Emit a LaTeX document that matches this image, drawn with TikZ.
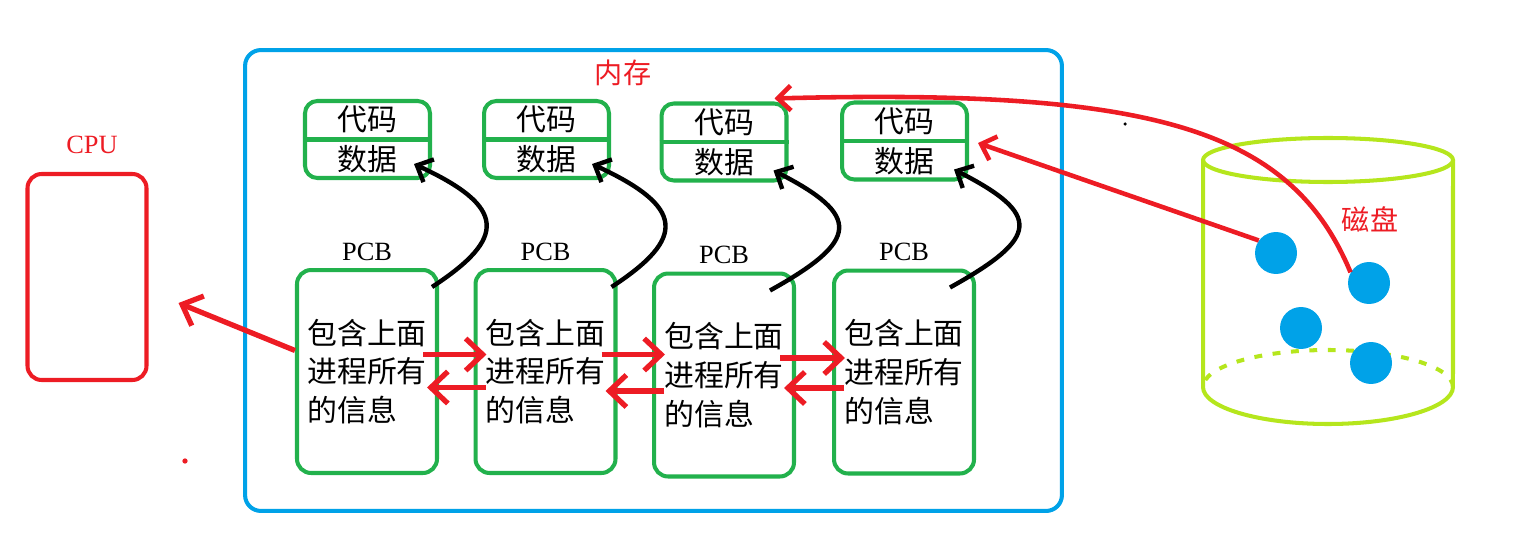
\documentclass[tikz,border=0pt]{standalone}
\usepackage{fontspec}
\setmainfont{Liberation Serif}
\newfontfamily\cjk{Noto Sans CJK SC}
\usepackage{xcolor}
\usetikzlibrary{arrows.meta,positioning}
\definecolor{memblue}{HTML}{00A2E8}
\definecolor{boxgreen}{HTML}{22B14C}
\definecolor{linkred}{HTML}{ED1C24}
\definecolor{diskgreen}{HTML}{B5E61D}

\begin{document}
\begin{tikzpicture}[
    x=0.02cm, y=-0.02cm,
    membox/.style={draw=memblue, line width=2.3pt, rounded corners=9pt,
                   minimum width=16.34cm, minimum height=9.22cm},
    cpubox/.style={draw=linkred, line width=2.3pt, rounded corners=8pt,
                   minimum width=2.38cm, minimum height=4.12cm},
    segbox/.style={draw=boxgreen, line width=2.3pt, rounded corners=7pt,
                   minimum width=2.5cm, minimum height=1.54cm},
    pcbbox/.style={draw=boxgreen, line width=2.3pt, rounded corners=8pt,
                   minimum width=2.8cm, minimum height=4.06cm, align=left,
                   font=\cjk\fontsize{17}{22}\selectfont},
    word/.style={font=\cjk\fontsize{17}{20}\selectfont, inner sep=0pt},
    tag/.style={font=\fontsize{15}{18}\selectfont, inner sep=0pt},
    redtag/.style={text=linkred, inner sep=0pt},
    xchg/.style={-{Straight Barb[length=0.34cm, width=0.64cm]}, draw=linkred, line width=3pt},
    fetch/.style={-{Straight Barb[length=0.26cm, width=0.5cm]}, draw=linkred, line width=2.6pt},
    link/.style={-{Straight Barb[length=0.26cm, width=0.5cm]}, line width=2.5pt},
    disk/.style={draw=diskgreen, line width=2.3pt},
    ball/.style={circle, fill=memblue, minimum size=0.84cm, inner sep=0pt}
]
    \useasboundingbox (0,0) rectangle (1523,557);

    \node[membox] (mem) at (653.5,280.5) {};
    \node[redtag, font=\cjk\fontsize{16}{18}\selectfont] (memtag) at (623,73) {内存};

    \node[cpubox] (cpu) at (87,277) {};
    \node[redtag, tag] (cputag) at (92,145) {CPU};

    % code / data of each process
    \foreach \i/\x/\y in {1/367.5/139.5, 2/546.5/139.5, 3/724/142, 4/904.5/141}{
        \node[segbox] (seg\i) at (\x,\y) {};
        \draw[boxgreen, line width=2.3pt] (seg\i.west) -- (seg\i.east);
        \node[word] (code\i) at ([yshift=0.4cm]seg\i.center) {代码};
        \node[word] (data\i) at ([yshift=-0.4cm]seg\i.center) {数据};
    }

    % PCBs
    \foreach \i/\x/\y in {1/367/371.5, 2/545.5/371.5, 3/724/375, 4/904/372}{
        \node[pcbbox] (pcb\i) at (\x,\y) {包含上面\\进程所有\\的信息};
        \node[tag, above=0.14cm of pcb\i] (name\i) {PCB};
    }

    \draw[link] ([shift={(-7,19)}]pcb1.north east) .. controls +(75,-49) and +(93,43) .. ([shift={(-18,-16)}]seg1.south east);
    \draw[link] ([shift={(-6,19)}]pcb2.north east) .. controls +(75,-49) and +(93,43) .. ([shift={(-19,-16)}]seg2.south east);
    \draw[link] ([shift={(-26,19)}]pcb3.north east) .. controls +(90,-50) and +(88,45) .. ([shift={(-15,-12)}]seg3.south east);
    \draw[link] ([shift={(-26,19)}]pcb4.north east) .. controls +(90,-50) and +(88,45) .. ([shift={(-15,-12)}]seg4.south east);

    \foreach \a/\b in {pcb1/pcb2, pcb2/pcb3, pcb3/pcb4}{
        \draw[xchg] ([shift={(-16,-17)}]\a.east) coordinate (go)
            -- ([xshift=0.26cm]go -| \b.west);
        \draw[xchg] ([shift={(12,16)}]\b.west) coordinate (back)
            -- ([xshift=-0.24cm]back -| \a.east);
    }
    \draw[xchg] ([yshift=0.42cm]pcb1.west) -- ([shift={(30,26)}]cpu.east);

    % disk
    \draw[disk] (1328,160) ellipse [x radius=2.5cm, y radius=0.44cm];
    \draw[disk] (1203,160) -- (1203,387) arc[start angle=180, end angle=360, x radius=2.5cm, y radius=0.74cm] -- (1453,160);
    \draw[disk, dash pattern=on 4.5pt off 6pt] (1453,387) arc[start angle=0, end angle=180, x radius=2.5cm, y radius=0.74cm];
    \node[redtag, font=\cjk\fontsize{16}{18}\selectfont] (disktag) at (1370,219) {磁盘};
    \node[ball] (ball1) at (1276,253) {};
    \node[ball] (ball2) at (1369,283) {};
    \node[ball] (ball3) at (1301,328) {};
    \node[ball] (ball4) at (1371,363) {};

    \draw[fetch] (ball1.144) -- ([shift={(9,2)}]seg4.east);
    \draw[fetch] (ball2.150) .. controls +(-60,-144) and +(378,-10) .. ([shift={(-14,-3)}]seg3.north east);

    \fill[linkred] (185,461) circle[radius=1.5pt];
    \fill (1125,124) circle[radius=1pt];
\end{tikzpicture}
\end{document}
